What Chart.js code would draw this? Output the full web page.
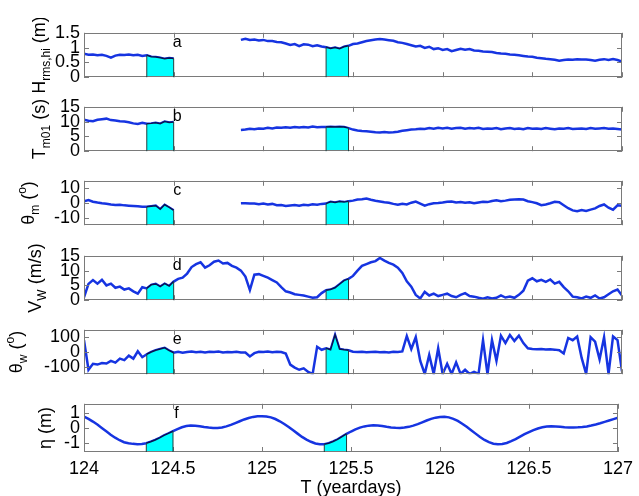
<!DOCTYPE html>
<html>
<head>
<meta charset="utf-8">
<script src="https://cdn.jsdelivr.net/npm/chart.js@4.4.0/dist/chart.umd.min.js"></script>
<style>
  html, body { margin: 0; padding: 0; background: #fff; }
  #wrap { position: relative; width: 639px; height: 496px; overflow: hidden; }
  #wrap canvas { position: absolute; left: 0; }
</style>
</head>
<body>
<div id="wrap"></div>
<script>
// sample times (yeardays)
const T = [
  124,124.025,124.05,124.075,124.1,124.125,124.15,124.175,124.2,124.225,
  124.25,124.275,124.3,124.325,124.35,124.375,124.4,124.425,124.45,124.475,
  124.5,124.525,124.55,124.575,124.6,124.625,124.65,124.675,124.7,124.725,
  124.75,124.775,124.8,124.825,124.85,124.875,124.9,124.925,124.95,124.975,
  125,125.025,125.05,125.075,125.1,125.125,125.15,125.175,125.2,125.225,
  125.25,125.275,125.3,125.325,125.35,125.375,125.4,125.425,125.45,125.475,
  125.5,125.525,125.55,125.575,125.6,125.625,125.65,125.675,125.7,125.725,
  125.75,125.775,125.8,125.825,125.85,125.875,125.9,125.925,125.95,125.975,
  126,126.025,126.05,126.075,126.1,126.125,126.15,126.175,126.2,126.225,
  126.25,126.275,126.3,126.325,126.35,126.375,126.4,126.425,126.45,126.475,
  126.5,126.525,126.55,126.575,126.6,126.625,126.65,126.675,126.7,126.725,
  126.75,126.775,126.8,126.825,126.85,126.875,126.9,126.925,126.95,126.975,
  127
];

// a: Hrms,hi (m)
const hrms = [
  0.79,0.76,0.77,0.74,0.76,0.72,0.66,0.73,0.76,0.75,
  0.77,0.74,0.76,0.72,0.74,0.69,0.68,0.66,0.62,0.65,
  0.63,null,null,null,null,null,null,null,null,null,
  null,null,null,null,null,1.26,1.30,1.26,1.27,1.24,
  1.26,1.22,1.22,1.19,1.18,1.14,1.09,1.12,1.05,1.11,
  1.10,1.05,1.08,1.04,1.01,0.97,1.00,0.96,1.03,1.06,
  1.12,1.14,1.18,1.22,1.25,1.27,1.29,1.27,1.25,1.23,
  1.18,1.16,1.12,1.08,1.04,1.06,0.99,1.03,0.95,0.98,
  0.92,0.95,0.88,0.92,0.96,0.93,0.95,0.90,0.89,0.87,
  0.86,0.85,0.82,0.80,0.79,0.77,0.76,0.74,0.72,0.70,
  0.69,0.66,0.64,0.62,0.61,0.59,0.56,0.58,0.60,0.59,
  0.61,0.60,0.60,0.58,0.56,0.59,0.61,0.58,0.61,0.58,
  0.53
];

// b: Tm01 (s)
const tm01 = [
  10.6,10.3,10.1,10.6,10.8,11.0,10.5,10.4,10.1,10.0,
  9.8,9.4,9.2,9.6,9.3,9.4,9.6,9.3,10.0,9.7,
  9.9,null,null,null,null,null,null,null,null,null,
  null,null,null,null,null,7.2,7.3,7.6,7.4,7.7,
  7.6,7.9,7.7,8.0,7.9,8.1,7.9,8.2,8.0,8.2,
  8.0,8.3,8.1,8.2,8.2,8.3,8.2,8.3,8.2,7.8,
  7.3,7.0,6.8,6.7,6.6,6.4,6.3,6.5,6.3,6.4,
  6.6,6.9,7.1,7.3,7.4,7.6,7.5,7.8,7.6,7.9,
  7.7,7.9,7.6,7.8,7.9,7.6,7.8,7.7,7.9,7.5,
  7.7,7.6,7.8,7.4,7.7,7.8,7.5,7.7,7.4,7.8,
  7.6,7.7,7.5,7.8,7.6,7.4,7.7,7.6,7.8,7.5,
  7.6,7.7,7.5,7.8,7.6,7.7,7.8,7.6,7.7,7.5,
  7.3
];

// c: theta_m (deg)
const thetaM = [
  1.2,2.0,0.9,0.3,-0.2,-0.5,-1.0,-1.3,-1.2,-1.6,
  -1.8,-2.0,-2.2,-2.5,-2.6,-2.2,-1.8,-4.2,-1.2,-3.0,
  -5.0,null,null,null,null,null,null,null,null,null,
  null,null,null,null,null,-0.2,-0.1,-0.4,-0.3,-0.8,
  -0.4,-1.0,-0.6,-1.5,-1.3,-2.0,-1.7,-1.4,-1.9,-1.2,
  -1.5,-0.9,-1.1,-0.6,-0.4,0.8,0.4,1.0,0.6,1.2,
  1.6,2.4,2.6,3.0,2.2,1.5,1.0,0.5,0.2,-0.6,
  -1.2,-0.5,-1.0,0.2,1.0,-0.4,-1.8,-0.8,-0.2,0.0,
  0.3,0.8,1.0,0.4,0.6,0.2,0.5,-0.2,0.4,0.8,
  0.6,1.4,1.8,1.2,1.6,2.2,2.4,2.6,2.3,1.2,
  0.6,-0.2,-1.5,-1.0,-0.2,0.8,0.5,-1.5,-3.5,-5.0,
  -5.5,-4.8,-5.4,-4.5,-3.6,-2.0,-1.0,-3.2,-4.5,-1.6,
  -1.9
];

// d: wind speed (m/s)
const windV = [
  1.0,5.5,6.8,5.6,6.9,5.0,5.6,4.2,4.6,3.6,
  4.0,3.0,2.2,4.4,4.0,5.2,5.5,4.6,5.6,4.8,
  6.3,7.2,7.6,9.0,11.2,12.2,12.8,11.0,11.8,13.0,
  13.4,12.4,12.6,11.6,11.0,10.0,8.0,3.4,8.6,8.8,
  8.2,7.6,6.8,6.0,4.4,3.0,2.6,2.0,1.8,1.6,
  1.2,0.8,1.0,2.4,3.4,3.6,4.2,5.4,6.6,7.2,
  8.2,10.0,11.6,12.2,12.8,13.2,14.3,13.4,12.6,12.0,
  11.0,9.2,6.4,4.6,1.8,0.6,2.8,1.6,2.2,1.4,
  1.8,2.2,1.4,1.0,1.8,2.4,1.4,1.2,0.8,0.5,
  1.0,0.6,0.8,1.6,0.9,1.2,0.8,1.8,3.2,6.6,
  7.4,6.4,6.9,6.2,7.0,5.6,6.2,4.4,3.0,1.2,
  1.0,0.6,1.2,0.8,1.6,0.6,1.0,2.0,3.0,3.6,
  1.6
];

// e: wind direction (deg)
const thetaW = [
  80,-120,-80,-85,-75,-78,-60,-72,-45,-55,
  -25,-45,5,-35,-15,0,12,20,28,10,
  -5,2,-5,0,3,-2,2,-3,2,0,
  3,-3,0,-2,2,-3,-4,-30,-8,2,
  0,3,-2,2,0,-10,-85,-105,-120,-110,
  -135,-148,35,15,25,15,115,20,15,12,
  2,0,2,-2,0,1,-2,0,-3,2,
  0,4,108,20,100,-60,-148,-20,-148,25,
  -148,-80,-148,-70,-148,-120,-148,-135,-148,80,
  -150,80,-60,110,60,115,75,110,60,25,
  20,18,20,17,19,16,12,-10,95,80,
  105,-40,-148,100,70,-50,100,-148,105,80,
  -130
];

// f: water level eta (m)
const eta = [
  0.75,0.60,0.42,0.22,0.00,-0.22,-0.45,-0.65,-0.82,-0.95,
  -1.02,-1.06,-1.08,-1.07,-1.02,-0.92,-0.80,-0.66,-0.50,-0.36,
  -0.22,-0.08,0.04,0.12,0.16,0.15,0.11,0.06,0.02,0.00,
  0.00,0.03,0.10,0.20,0.32,0.44,0.56,0.66,0.73,0.77,
  0.78,0.76,0.70,0.59,0.44,0.26,0.06,-0.16,-0.38,-0.60,
  -0.78,-0.92,-1.03,-1.08,-1.08,-1.02,-0.90,-0.76,-0.58,-0.40,
  -0.24,-0.10,0.02,0.10,0.15,0.17,0.16,0.12,0.07,0.03,
  0.01,0.00,0.02,0.07,0.15,0.25,0.37,0.49,0.60,0.68,
  0.73,0.74,0.70,0.60,0.46,0.28,0.07,-0.15,-0.38,-0.60,
  -0.80,-0.95,-1.05,-1.09,-1.07,-1.00,-0.88,-0.74,-0.58,-0.42,
  -0.28,-0.15,-0.04,0.04,0.09,0.11,0.10,0.08,0.05,0.03,
  0.03,0.04,0.06,0.10,0.16,0.23,0.31,0.40,0.49,0.58,
  0.67
];

// shaded time windows
const windows = [[124.35, 124.5], [125.35, 125.475]];

const xTicks = [124, 124.5, 125, 125.5, 126, 126.5, 127];
const hrmsTicks = [0, 0.5, 1, 1.5];
const tm01Ticks = [0, 5, 10, 15];
const thetaMTicks = [-10, 0, 10];
const windTicks = [0, 5, 10, 15];
const thetaWTicks = [-100, 0, 100];
const etaTicks = [-1, 0, 1];

const FONT = 'Arial, "Liberation Sans", sans-serif';
const BLUE = 'rgb(22,52,225)';
const LEFT = 84, RIGHT_PAD = 17, PAD = 12, PH = 50;

const panels = [
  { letter: 'a', data: hrms, min: 0, max: 1.5, ticks: hrmsTicks, top: 30, titleX: 45,
    title: [{t: 'H'}, {t: 'rms,hi', sub: true}, {t: ' (m)'}] },
  { letter: 'b', data: tm01, min: 0, max: 15, ticks: tm01Ticks, top: 104, titleX: 45,
    title: [{t: 'T'}, {t: 'm01', sub: true}, {t: ' (s)'}] },
  { letter: 'c', data: thetaM, min: -15, max: 15, ticks: thetaMTicks, top: 178, titleX: 34,
    title: [{t: 'θ'}, {t: 'm', sub: true}, {t: ' ('}, {t: 'o', sup: true}, {t: ')'}] },
  { letter: 'd', data: windV, min: 0, max: 15, ticks: windTicks, top: 253, titleX: 41,
    title: [{t: 'V'}, {t: 'W', sub: true}, {t: ' (m/s)'}] },
  { letter: 'e', data: thetaW, min: -150, max: 150, ticks: thetaWTicks, top: 327, titleX: 22,
    title: [{t: 'θ'}, {t: 'w', sub: true}, {t: ' ('}, {t: 'o', sup: true}, {t: ')'}] },
  { letter: 'f', data: eta, min: -1.6, max: 1.6, ticks: etaTicks, top: 401, titleX: 51,
    title: [{t: 'η (m)'}] }
];

function inWindow(t) {
  return windows.some(w => t >= w[0] - 1e-9 && t <= w[1] + 1e-9);
}

// rotated axis title with sub/superscripts
function drawTitle(ctx, parts, cx, cy) {
  ctx.save();
  ctx.translate(cx, cy);
  ctx.rotate(-Math.PI / 2);
  ctx.fillStyle = '#000';
  ctx.textAlign = 'left';
  ctx.textBaseline = 'alphabetic';
  const fontOf = p => (p.sub || p.sup ? '12px ' : '18px ') + FONT;
  let w = 0;
  parts.forEach(p => { ctx.font = fontOf(p); w += ctx.measureText(p.t).width; });
  let px = -w / 2;
  parts.forEach(p => {
    ctx.font = fontOf(p);
    ctx.fillText(p.t, px, p.sub ? 5 : (p.sup ? -8 : 0));
    px += ctx.measureText(p.t).width;
  });
  ctx.restore();
}

// box, inward ticks, shading edges, panel letter and title
const frame = {
  id: 'panelFrame',
  afterDraw(chart, args, opts) {
    const { ctx, chartArea: a } = chart;
    const x = chart.scales.x, y = chart.scales.y;
    ctx.save();
    ctx.strokeStyle = '#7a7a7a';
    ctx.lineWidth = 1;
    ctx.strokeRect(Math.round(a.left) + 0.5, Math.round(a.top) + 0.5,
      Math.round(a.right - a.left) - 1, Math.round(a.bottom - a.top) - 1);
    ctx.beginPath();
    xTicks.forEach(v => {
      const px = Math.round(x.getPixelForValue(v)) + 0.5;
      ctx.moveTo(px, a.bottom); ctx.lineTo(px, a.bottom - 5);
      ctx.moveTo(px, a.top); ctx.lineTo(px, a.top + 5);
    });
    opts.ticks.forEach(v => {
      const py = Math.round(y.getPixelForValue(v)) + 0.5;
      ctx.moveTo(a.left, py); ctx.lineTo(a.left + 5, py);
      ctx.moveTo(a.right, py); ctx.lineTo(a.right - 5, py);
    });
    ctx.stroke();

    ctx.strokeStyle = '#1b4040';
    ctx.beginPath();
    windows.forEach(w => w.forEach(t => {
      const v = opts.data[T.indexOf(t)];
      if (v == null) return;
      const px = x.getPixelForValue(t);
      ctx.moveTo(px, a.bottom); ctx.lineTo(px, y.getPixelForValue(v));
    }));
    ctx.stroke();

    ctx.fillStyle = '#000';
    ctx.font = '16px ' + FONT;
    ctx.textAlign = 'center';
    ctx.textBaseline = 'alphabetic';
    ctx.fillText(opts.letter, x.getPixelForValue(124.52), a.top + 14);

    drawTitle(ctx, opts.title, opts.titleX, (a.top + a.bottom) / 2);
    ctx.restore();
  }
};

const wrap = document.getElementById('wrap');

panels.forEach((p, k) => {
  const last = k === panels.length - 1;
  const canvas = document.createElement('canvas');
  const h = last ? 499 - (p.top - PAD) : PAD + PH + PAD;
  canvas.width = 639;
  canvas.height = h;
  canvas.style.top = (p.top - PAD) + 'px';
  wrap.appendChild(canvas);

  const line = T.map((t, i) => ({ x: t, y: p.data[i] }));
  const shade = T.map((t, i) => ({ x: t, y: inWindow(t) ? p.data[i] : null }));

  new Chart(canvas, {
    type: 'line',
    data: {
      datasets: [
        { data: shade, borderColor: '#0b1250', borderWidth: 1.5, backgroundColor: '#00ffff',
          fill: 'start', pointRadius: 0, spanGaps: false, order: 0 },
        { data: line, borderColor: BLUE, borderWidth: 2.5, fill: false, pointRadius: 0,
          spanGaps: false, tension: 0, order: 1 }
      ]
    },
    options: {
      responsive: false,
      animation: false,
      events: [],
      layout: { padding: { left: 0, right: RIGHT_PAD, top: PAD, bottom: last ? 0 : PAD } },
      plugins: {
        legend: { display: false },
        tooltip: { enabled: false },
        panelFrame: { letter: p.letter, ticks: p.ticks, title: p.title, titleX: p.titleX, data: p.data }
      },
      scales: {
        x: {
          type: 'linear', min: 124, max: 127, display: last,
          grid: { display: false, drawTicks: false },
          border: { display: false },
          afterBuildTicks: s => { s.ticks = xTicks.map(v => ({ value: v })); },
          afterFit: s => { s.height = last ? 47 : 0; },
          ticks: { color: '#000', font: { family: FONT, size: 18 }, padding: 6,
            maxRotation: 0, autoSkip: false, callback: v => String(v) },
          title: { display: last, text: 'T (yeardays)', color: '#000',
            font: { family: FONT, size: 18 }, padding: { top: 0, bottom: 0 } }
        },
        y: {
          min: p.min, max: p.max,
          grid: { display: false, drawTicks: false },
          border: { display: false },
          afterBuildTicks: s => { s.ticks = p.ticks.map(v => ({ value: v })); },
          afterFit: s => { s.width = LEFT; },
          ticks: { color: '#000', font: { family: FONT, size: 18 }, padding: 4,
            autoSkip: false, callback: v => String(v) }
        }
      }
    },
    plugins: [frame]
  });
});
</script>
</body>
</html>
